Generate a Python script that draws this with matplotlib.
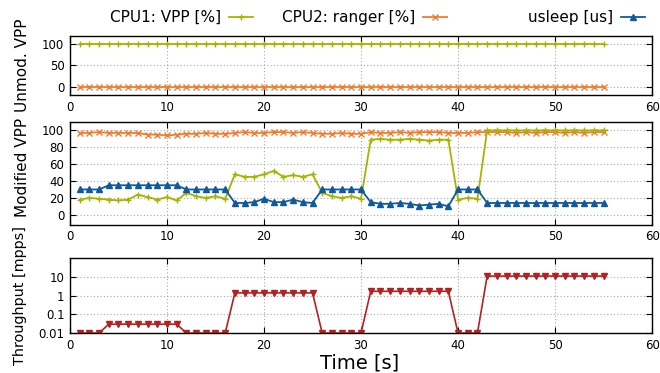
import numpy as np
import matplotlib
matplotlib.use("Agg")
import matplotlib.pyplot as plt
from matplotlib.ticker import LogLocator, NullFormatter

# ---------- data ----------
t = list(range(1, 56))

unmod_vpp = [100] * 55
unmod_ranger = [0] * 55

mod_vpp = [18, 20, 19, 18, 17, 18, 24, 21, 18, 21, 17, 26, 22, 20, 22, 19,
           48, 45, 45, 48, 52, 45, 47, 45, 48,
           26, 22, 20, 22, 19,
           89, 90, 89, 89, 90, 89, 88, 89, 89,
           18, 20, 19] + [100] * 13
mod_ranger = [97, 97, 98, 97, 97, 97, 97, 95, 95, 94, 95, 96, 96, 97, 96, 96,
              97, 98, 97, 97, 98, 98, 97, 98, 97, 96, 96, 97, 96, 96,
              98, 97, 97, 98, 97, 98, 98, 98, 97, 97, 97, 98,
              98, 98, 98, 97, 98, 97, 98, 98, 97, 98, 97, 98, 98]
usleep = [30, 30, 30] + [35] * 8 + [30] * 5 + \
         [14, 14, 15, 19, 15, 15, 18, 15, 14] + [30] * 5 + \
         [15, 13, 13, 14, 13, 11, 12, 13, 10] + [30] * 3 + [14] * 13
throughput = [0.01] * 3 + [0.03] * 8 + [0.01] * 5 + [1.4] * 9 + [0.01] * 5 + \
             [1.7] * 9 + [0.01] * 3 + [11] * 13

C_VPP, C_RANGER, C_SLEEP, C_TP = "#a4b400", "#f07d2e", "#0f5a9c", "#b22222"

plt.rcParams["font.family"] = "DejaVu Sans"
fig = plt.figure(figsize=(6.6, 3.73), dpi=100)
L, W = 0.106, 0.882
ax1 = fig.add_axes([L, 0.745, W, 0.158])
ax2 = fig.add_axes([L, 0.397, W, 0.276])
ax3 = fig.add_axes([L, 0.107, W, 0.201])

def style(ax):
    ax.set_xlim(0, 60)
    ax.set_xticks(range(0, 61, 10))
    ax.grid(True, color="#a8a8a8", linestyle=(0, (1, 2)), linewidth=0.8)
    ax.tick_params(direction="in", top=True, right=True, labelsize=8.5, length=4, pad=4)
    for s in ax.spines.values():
        s.set_linewidth(1.0)

kw = dict(linewidth=1.3, markersize=4.5, markeredgewidth=1.0)
h1, = ax1.plot(t, unmod_vpp, color=C_VPP, marker="+", label="CPU1: VPP [%]", **kw)
h2, = ax1.plot(t, unmod_ranger, color=C_RANGER, marker="x", label="CPU2: ranger [%]", **kw)
ax1.set_ylim(-20, 118)
ax1.set_yticks([0, 50, 100])
style(ax1)

ax2.plot(t, mod_ranger, color=C_RANGER, marker="x", **kw)
ax2.plot(t, mod_vpp, color=C_VPP, marker="+", **kw)
h3, = ax2.plot(t, usleep, color=C_SLEEP, marker="^", label="usleep [us]",
               linewidth=1.3, markersize=4)
ax2.set_ylim(-12, 110)
ax2.set_yticks(range(0, 101, 20))
style(ax2)

ax3.plot(t, throughput, color=C_TP, marker="v", linewidth=1.2, markersize=4)
ax3.set_yscale("log")
ax3.set_ylim(0.01, 100)
ax3.set_yticks([0.01, 0.1, 1, 10])
ax3.set_yticklabels(["0.01", "0.1", "1", "10"])
ax3.yaxis.set_minor_locator(LogLocator(base=10, subs=np.arange(2, 10)))
ax3.yaxis.set_minor_formatter(NullFormatter())
style(ax3)
ax3.tick_params(which="minor", direction="in", right=True, length=2)

# gnuplot-style key: text then sample, each entry placed by its right edge
for h, xr in [(h1, 253), (h2, 447), (h3, 645)]:
    fig.legend(handles=[h], loc="center right", bbox_to_anchor=(xr / 660, 0.953),
               frameon=False, markerfirst=False, fontsize=11, handlelength=1.6,
               handletextpad=0.5, borderpad=0, borderaxespad=0)

fig.text(0.034, 0.826, "Unmod. VPP", rotation=90, ha="center", va="center", fontsize=11)
fig.text(0.034, 0.55, "Modified VPP", rotation=90, ha="center", va="center", fontsize=11)
fig.text(0.031, 0.209, "Throughput [mpps]", rotation=90, ha="center", va="center", fontsize=10.4)
fig.text(0.545, 0.027, "Time [s]", ha="center", va="center", fontsize=14)

fig.savefig("out.png", dpi=100)
